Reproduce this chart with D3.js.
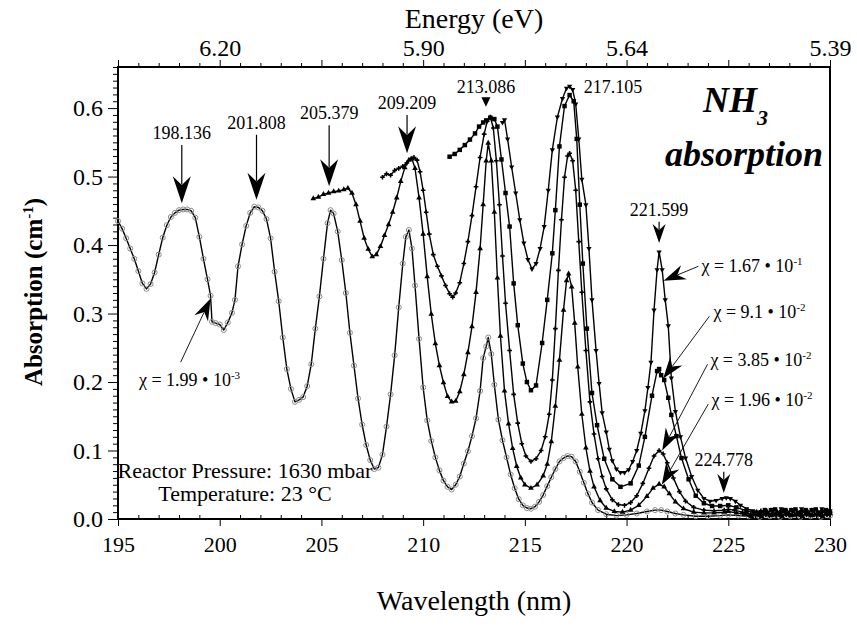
<!DOCTYPE html>
<html>
<head>
<meta charset="utf-8">
<script src="https://cdn.jsdelivr.net/npm/d3@7"></script>
<style>
  body { margin: 0; background: #fff; }
  svg text { font-family: "Liberation Serif", "Times New Roman", Tinos, "Nimbus Roman", "DejaVu Serif", serif; fill: #000; }
</style>
</head>
<body>
<svg id="chart" width="857" height="636"></svg>
<script>
// ---- Data: NH3 absorption spectra, [wavelength nm, absorption cm^-1] ----
const chi199e3 = [[195.0,.435],[195.2,.424],[195.4,.41],[195.6,.395],[195.8,.38],[196.0,.362],[196.2,.344],[196.4,.336],[196.6,.343],[196.8,.36],[197.0,.386],[197.2,.411],[197.4,.429],[197.6,.441],[197.8,.447],[198.0,.451],[198.2,.452],[198.4,.452],[198.6,.45],[198.8,.44],[199.0,.412],[199.2,.38],[199.4,.35],[199.55,.326],[199.62,.288],[199.8,.286],[200.0,.284],[200.2,.276],[200.4,.287],[200.6,.301],[200.75,.32],[200.9,.369],[201.1,.401],[201.3,.428],[201.5,.447],[201.7,.456],[201.9,.455],[202.1,.45],[202.3,.438],[202.5,.41],[202.7,.361],[202.9,.318],[203.1,.265],[203.3,.219],[203.5,.19],[203.7,.171],[203.9,.174],[204.1,.178],[204.3,.194],[204.5,.226],[204.7,.278],[204.9,.325],[205.1,.38],[205.3,.432],[205.45,.451],[205.6,.446],[205.8,.42],[206.0,.378],[206.2,.33],[206.4,.272],[206.6,.224],[206.8,.176],[207.0,.138],[207.2,.108],[207.4,.086],[207.6,.073],[207.8,.075],[208.0,.094],[208.2,.135],[208.4,.182],[208.6,.239],[208.8,.309],[209.0,.373],[209.15,.412],[209.3,.422],[209.45,.395],[209.6,.341],[209.8,.263],[210.0,.192],[210.2,.144],[210.4,.114],[210.6,.09],[210.8,.071],[211.0,.056],[211.2,.047],[211.4,.043],[211.6,.05],[211.8,.062],[212.0,.081],[212.2,.099],[212.4,.121],[212.6,.147],[212.8,.187],[212.95,.235],[213.1,.252],[213.2,.265],[213.35,.241],[213.5,.196],[213.7,.145],[213.9,.115],[214.1,.09],[214.3,.065],[214.5,.045],[214.7,.029],[214.9,.02],[215.1,.016],[215.3,.015],[215.5,.018],[215.7,.025],[215.9,.035],[216.1,.048],[216.3,.061],[216.5,.073],[216.7,.084],[216.9,.089],[217.1,.092],[217.3,.091],[217.5,.084],[217.7,.069],[217.9,.053],[218.1,.037],[218.3,.024],[218.6,.013],[219.0,.007],[219.5,.005],[220.0,.006],[220.5,.008],[221.0,.011],[221.4,.013],[221.7,.013],[222.0,.011],[222.4,.008],[222.8,.006],[223.4,.004],[224.0,.004],[224.6,.005],[225.0,.006],[225.5,.005],[226.0,.004],[226.3,.007],[226.55,.003],[226.8,.008],[227.05,.004],[227.3,.008],[227.55,.003],[227.8,.008],[228.05,.004],[228.3,.008],[228.55,.003],[228.8,.008],[229.05,.004],[229.3,.008],[229.55,.003],[229.8,.008],[230.0,.005]];

const chi196e2 = [[204.6,.468],[204.85,.47],[205.1,.474],[205.35,.476],[205.6,.478],[205.85,.479],[206.1,.481],[206.3,.483],[206.5,.476],[206.7,.459],[206.9,.435],[207.1,.41],[207.3,.394],[207.5,.383],[207.7,.386],[207.9,.398],[208.1,.414],[208.3,.43],[208.5,.448],[208.7,.469],[208.9,.493],[209.1,.513],[209.3,.524],[209.45,.526],[209.6,.512],[209.8,.469],[210.0,.416],[210.2,.354],[210.4,.299],[210.6,.256],[210.8,.224],[211.0,.199],[211.2,.179],[211.4,.171],[211.6,.172],[211.8,.186],[212.0,.211],[212.2,.243],[212.4,.281],[212.6,.331],[212.8,.395],[212.95,.459],[213.1,.523],[213.2,.549],[213.35,.523],[213.5,.448],[213.65,.352],[213.8,.267],[214.0,.187],[214.2,.139],[214.4,.103],[214.6,.077],[214.8,.06],[215.0,.05],[215.3,.045],[215.6,.05],[215.9,.063],[216.1,.08],[216.3,.113],[216.5,.165],[216.7,.232],[216.9,.305],[217.05,.348],[217.15,.358],[217.3,.339],[217.45,.286],[217.6,.222],[217.8,.153],[218.0,.104],[218.2,.07],[218.4,.047],[218.7,.027],[219.0,.016],[219.4,.011],[219.8,.01],[220.2,.013],[220.6,.02],[221.0,.033],[221.3,.045],[221.6,.051],[221.85,.047],[222.1,.037],[222.4,.025],[222.8,.015],[223.3,.01],[223.8,.009],[224.3,.009],[224.8,.01],[225.0,.011],[225.4,.009],[225.8,.007],[226.15,.004],[226.4,.01],[226.65,.004],[226.9,.011],[227.15,.005],[227.4,.01],[227.65,.004],[227.9,.011],[228.15,.005],[228.4,.01],[228.65,.004],[228.9,.011],[229.15,.005],[229.4,.01],[229.65,.004],[229.9,.011],[230.0,.008]];

const chi385e2 = [[208.0,.499],[208.2,.504],[208.4,.502],[208.6,.509],[208.8,.512],[209.0,.515],[209.2,.52],[209.4,.526],[209.55,.528],[209.7,.524],[209.85,.507],[210.0,.48],[210.15,.448],[210.3,.416],[210.5,.386],[210.7,.369],[210.9,.355],[211.1,.341],[211.3,.329],[211.45,.324],[211.6,.33],[211.8,.345],[212.0,.373],[212.2,.405],[212.4,.443],[212.6,.485],[212.8,.528],[213.0,.562],[213.15,.581],[213.3,.587],[213.45,.571],[213.6,.523],[213.75,.459],[213.9,.384],[214.05,.315],[214.25,.246],[214.45,.182],[214.65,.14],[214.85,.11],[215.05,.092],[215.3,.084],[215.55,.088],[215.8,.1],[216.0,.12],[216.2,.153],[216.35,.203],[216.5,.278],[216.65,.363],[216.8,.437],[216.95,.499],[217.1,.53],[217.2,.534],[217.35,.523],[217.5,.48],[217.65,.405],[217.8,.331],[218.0,.246],[218.2,.171],[218.4,.124],[218.6,.088],[218.8,.062],[219.0,.044],[219.3,.028],[219.6,.021],[219.9,.02],[220.2,.024],[220.5,.034],[220.8,.052],[221.1,.074],[221.35,.092],[221.6,.1],[221.8,.095],[222.0,.082],[222.3,.06],[222.6,.04],[222.9,.026],[223.3,.017],[223.8,.013],[224.3,.012],[224.8,.013],[225.0,.014],[225.3,.013],[225.7,.01],[226.1,.007],[226.35,.005],[226.6,.012],[226.85,.006],[227.1,.013],[227.35,.005],[227.6,.012],[227.85,.006],[228.1,.013],[228.35,.005],[228.6,.012],[228.85,.006],[229.1,.013],[229.35,.005],[229.6,.012],[229.85,.006],[230.0,.01]];

const chi91e2 = [[211.3,.529],[211.55,.533],[211.8,.539],[212.05,.546],[212.3,.554],[212.55,.563],[212.75,.573],[212.95,.579],[213.1,.582],[213.3,.586],[213.5,.584],[213.65,.573],[213.85,.525],[214.05,.476],[214.25,.427],[214.45,.344],[214.65,.283],[214.9,.227],[215.1,.2],[215.3,.188],[215.55,.195],[215.85,.257],[216.1,.32],[216.35,.388],[216.5,.451],[216.7,.544],[216.95,.603],[217.2,.619],[217.4,.61],[217.55,.555],[217.7,.459],[217.85,.373],[218.05,.278],[218.3,.184],[218.55,.137],[218.9,.088],[219.3,.058],[219.7,.047],[220.2,.052],[220.6,.078],[220.9,.12],[221.25,.18],[221.5,.216],[221.6,.219],[221.7,.21],[221.85,.203],[222.05,.177],[222.2,.152],[222.45,.121],[222.7,.089],[223.05,.058],[223.4,.034],[223.8,.023],[224.2,.019],[224.6,.019],[225.0,.02],[225.4,.017],[225.9,.012],[226.3,.009],[226.55,.006],[226.8,.013],[227.05,.006],[227.3,.014],[227.55,.007],[227.8,.013],[228.05,.006],[228.3,.014],[228.55,.007],[228.8,.013],[229.05,.006],[229.3,.014],[229.55,.007],[229.8,.013],[230.0,.009]];

const chi167e1 = [[213.9,.579],[214.0,.583],[214.15,.555],[214.35,.514],[214.55,.476],[214.75,.437],[214.95,.403],[215.15,.379],[215.35,.365],[215.55,.373],[215.75,.395],[215.95,.427],[216.15,.48],[216.35,.539],[216.6,.587],[216.85,.614],[217.05,.629],[217.2,.632],[217.35,.627],[217.5,.606],[217.65,.555],[217.8,.496],[218.0,.459],[218.15,.395],[218.3,.32],[218.5,.246],[218.65,.198],[218.8,.155],[219.0,.127],[219.15,.102],[219.3,.085],[219.5,.073],[219.7,.068],[219.9,.068],[220.1,.072],[220.3,.084],[220.5,.1],[220.7,.125],[220.9,.158],[221.05,.192],[221.2,.229],[221.35,.305],[221.5,.364],[221.6,.39],[221.75,.364],[221.9,.32],[222.05,.282],[222.2,.206],[222.4,.157],[222.65,.12],[222.9,.089],[223.2,.062],[223.5,.042],[223.8,.03],[224.1,.026],[224.4,.027],[224.7,.03],[224.9,.031],[225.1,.03],[225.35,.026],[225.6,.02],[225.9,.015],[226.2,.012],[226.6,.01],[226.85,.007],[227.1,.014],[227.35,.006],[227.6,.015],[227.85,.007],[228.1,.014],[228.35,.006],[228.6,.015],[228.85,.007],[229.1,.014],[229.35,.006],[229.6,.015],[229.85,.007],[230.0,.012]];

// Axis ticks
const wavelengthTicks = [195, 200, 205, 210, 215, 220, 225, 230];
const energyTickWavelengths = [200, 210, 220, 230];
const absorptionTicks = [0.0, 0.1, 0.2, 0.3, 0.4, 0.5, 0.6];

// Peak positions (nm) marked with arrows
const peakWavelengths = [198.136, 201.808, 205.379, 209.209, 213.086, 217.105, 221.599, 224.778];
// Mole fractions of the curves
const chiMantissa = ["1.67", "9.1", "3.85", "1.96", "1.99"];
const chiExponent = ["-1", "-2", "-2", "-2", "-3"];

// ---- Layout ----
const serif = '"Liberation Serif", "Times New Roman", Tinos, "Nimbus Roman", "DejaVu Serif", serif';
const svg = d3.select("#chart").attr("font-family", serif);
const x = d3.scaleLinear().domain([195, 230]).range([118, 830]);
const y = d3.scaleLinear().domain([0, 0.66]).range([519, 67]);
const hc = 1239.84; // eV*nm

const minorX = d3.range(195, 231, 1).filter(v => v % 5 !== 0);
const minorY = d3.range(0, 67, 1).filter(v => v % 10 !== 0).map(v => v / 100);

// bottom axis
const gB = svg.append("g").attr("class", "ax-b").attr("transform", `translate(0,${y(0)})`);
gB.call(d3.axisBottom(x).tickValues(wavelengthTicks).tickSize(7).tickPadding(10).tickFormat(d3.format("d")));
gB.append("g").call(d3.axisBottom(x).tickValues(minorX).tickSize(-4).tickFormat(""));
// top axis (photon energy)
const gT = svg.append("g").attr("class", "ax-t").attr("transform", `translate(0,${y(0.66)})`);
gT.call(d3.axisTop(x).tickValues(wavelengthTicks).tickSize(7).tickPadding(4)
  .tickFormat(d => energyTickWavelengths.includes(d) ? (hc / d).toFixed(2) : ""));
gT.append("g").call(d3.axisTop(x).tickValues(minorX).tickSize(4).tickFormat(""));
// left axis
const gL = svg.append("g").attr("class", "ax-l").attr("transform", `translate(${x(195)},0)`);
gL.call(d3.axisLeft(y).tickValues(absorptionTicks).tickSize(10).tickPadding(5).tickFormat(d3.format(".1f")));
gL.append("g").call(d3.axisLeft(y).tickValues(minorY).tickSize(5).tickFormat(""));

svg.selectAll(".domain").remove();
svg.selectAll("g").attr("font-family", null);
svg.selectAll(".tick line").attr("stroke", "#000").attr("stroke-width", 1);
svg.selectAll(".tick text").style("font-family", serif);
gB.selectAll(".tick text").style("font-size", "22px");
gT.selectAll(".tick text").style("font-size", "24px");
gL.selectAll(".tick text").style("font-size", "24px");

// frame
svg.append("rect")
  .attr("x", x(195)).attr("y", y(0.66))
  .attr("width", x(230) - x(195)).attr("height", y(0) - y(0.66))
  .attr("fill", "none").attr("stroke", "#000").attr("stroke-width", 2);

// axis titles
svg.append("text").attr("x", 474).attr("y", 28).attr("text-anchor", "middle")
  .style("font-size", "28px").text("Energy (eV)");
svg.append("text").attr("x", 474).attr("y", 610).attr("text-anchor", "middle")
  .style("font-size", "28px").text("Wavelength (nm)");
const yt = svg.append("text").attr("transform", "translate(42,292) rotate(-90)")
  .attr("text-anchor", "middle").style("font-size", "25px").style("font-weight", "bold");
yt.append("tspan").text("Absorption (cm");
yt.append("tspan").attr("dy", -9).style("font-size", "15px").text("-1");
yt.append("tspan").attr("dy", 9).text(")");

// ---- Curves ----
const line = d3.line().x(d => x(d[0])).y(d => y(d[1]));
const seriesList = [
  { data: chi199e3, sym: d3.symbolCircle, size: 20, fill: "none", stroke: "#8c8c8c", rot: 0 },
  { data: chi196e2, sym: d3.symbolTriangle, size: 14, fill: "#000", stroke: "none", rot: 0 },
  { data: chi385e2, sym: d3.symbolCross, size: 12, fill: "#000", stroke: "none", rot: 0 },
  { data: chi91e2, sym: d3.symbolSquare, size: 20, fill: "#000", stroke: "none", rot: 0 },
  { data: chi167e1, sym: d3.symbolTriangle, size: 12, fill: "#000", stroke: "none", rot: 180 }
];
seriesList.forEach(s => {
  svg.append("path").datum(s.data).attr("d", line)
    .attr("fill", "none").attr("stroke", "#000").attr("stroke-width", 1.4).attr("stroke-linejoin", "round");
  svg.append("g").selectAll("path").data(s.data).join("path")
    .attr("d", d3.symbol().type(s.sym).size(s.size))
    .attr("transform", d => `translate(${x(d[0])},${y(d[1])}) rotate(${s.rot})`)
    .attr("fill", s.fill).attr("stroke", s.stroke).attr("stroke-width", 1);
});

// ---- Annotations ----
// barbed arrowhead, tip at (tx,ty), pointing along (dx,dy)
function arrowHead(tx, ty, dx, dy, len, wid) {
  const ang = Math.atan2(dy, dx) * 180 / Math.PI - 90;
  const p = `M0,0 L${-wid / 2},${-len} L0,${-len * 0.68} L${wid / 2},${-len} Z`;
  svg.append("path").attr("d", p).attr("fill", "#000")
    .attr("transform", `translate(${tx},${ty}) rotate(${ang})`);
}

// peak labels: [text baseline value, arrow tail value, arrow tip value, head style]
const peakStyle = [
  [0.555, 0.546, 0.461, "big"],
  [0.569, 0.561, 0.466, "big"],
  [0.584, 0.575, 0.486, "big"],
  [0.599, 0.590, 0.534, "big"],
  [0.622, 0.616, 0.602, "tri"],
  [0.622, null, null, "none"],
  [0.442, 0.434, 0.403, "small"],
  [0.077, 0.069, 0.038, "small"]
];
peakWavelengths.forEach((w, i) => {
  const [tv, av, pv, kind] = peakStyle[i];
  const px = x(w);
  const t = svg.append("text").attr("y", y(tv)).style("font-size", "18px").text(w.toFixed(3));
  if (kind === "none") { t.attr("x", px + 16).attr("text-anchor", "start"); return; }
  t.attr("x", px).attr("text-anchor", "middle");
  if (kind === "tri") {
    svg.append("path").attr("d", `M${px - 4.5},${y(av)} L${px + 4.5},${y(av)} L${px},${y(pv)} Z`).attr("fill", "#000");
    return;
  }
  const len = kind === "big" ? 27 : 19, wid = kind === "big" ? 18 : 13;
  svg.append("line").attr("x1", px).attr("x2", px).attr("y1", y(av)).attr("y2", y(pv) - len * 0.7)
    .attr("stroke", "#000").attr("stroke-width", 1.2);
  arrowHead(px, y(pv), 0, 1, len, wid);
});

// mole fraction labels: [text start nm, baseline value, tail nm, tail value, tip nm, tip value]
const chiPlace = [
  [223.68, 0.361, 223.53, 0.369, 221.82, 0.348],
  [224.27, 0.294, 224.07, 0.296, 221.8, 0.205],
  [224.12, 0.223, 223.98, 0.226, 221.75, 0.1],
  [224.17, 0.165, 224.02, 0.168, 221.73, 0.05],
  [196.03, 0.194, 198.08, 0.229, 199.55, 0.322]
];
chiMantissa.forEach((m, i) => {
  const [tx, tv, ax, av, px, pv] = chiPlace[i];
  const t = svg.append("text").attr("x", x(tx)).attr("y", y(tv)).style("font-size", "18px");
  t.append("tspan").text(`χ = ${m} • 10`);
  t.append("tspan").attr("dy", -7).style("font-size", "11px").text(chiExponent[i]);
  const x1 = x(ax), y1 = y(av), x2 = x(px), y2 = y(pv);
  const dx = x2 - x1, dy = y2 - y1, L = Math.hypot(dx, dy);
  const len = 22, wid = 15;
  svg.append("line").attr("x1", x1).attr("y1", y1)
    .attr("x2", x2 - dx / L * len * 0.7).attr("y2", y2 - dy / L * len * 0.7)
    .attr("stroke", "#000").attr("stroke-width", 0.9);
  arrowHead(x2, y2, dx, dy, len, wid);
});

// title and measurement conditions
const nh = svg.append("text").attr("x", 703).attr("y", 112)
  .style("font-size", "36px").style("font-weight", "bold").style("font-style", "italic");
nh.append("tspan").text("NH");
nh.append("tspan").attr("dy", 13).style("font-size", "22px").text("3");
svg.append("text").attr("x", 823).attr("y", 166).attr("text-anchor", "end")
  .style("font-size", "36px").style("font-weight", "bold").style("font-style", "italic").text("absorption");

svg.append("text").attr("x", 245).attr("y", 478).attr("text-anchor", "middle")
  .style("font-size", "22px").text("Reactor Pressure: 1630 mbar");
svg.append("text").attr("x", 245).attr("y", 501).attr("text-anchor", "middle")
  .style("font-size", "22px").text("Temperature: 23 °C");
</script>
</body>
</html>
